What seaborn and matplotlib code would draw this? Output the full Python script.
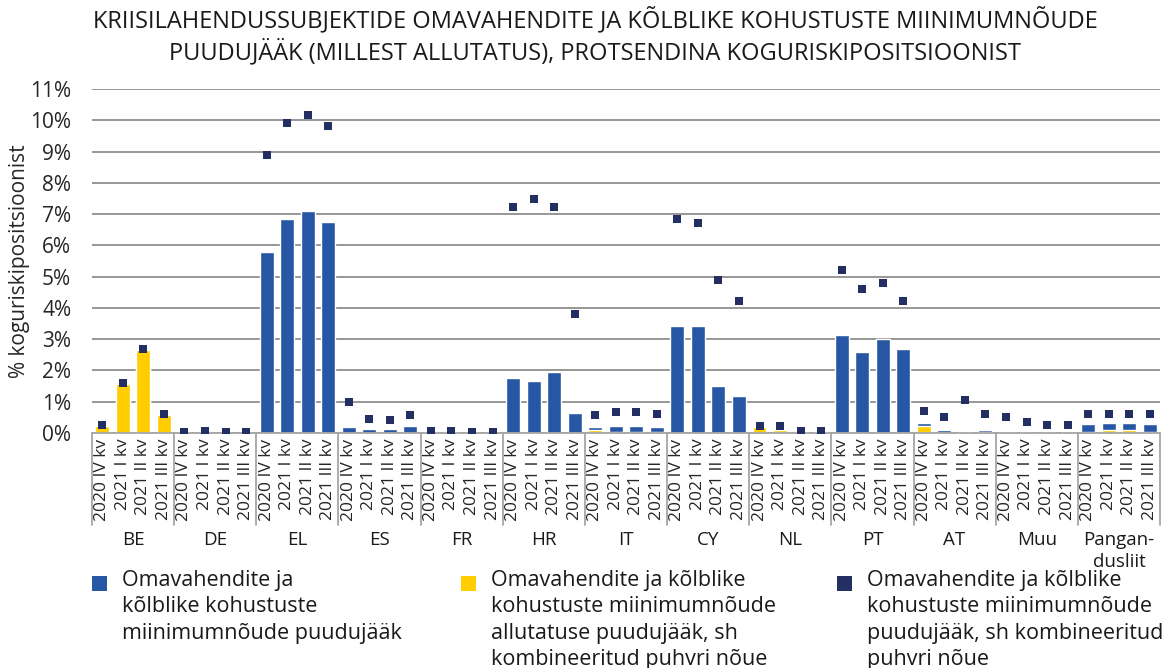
import matplotlib
matplotlib.use("Agg")
import matplotlib.pyplot as plt
import matplotlib.transforms as mtransforms
from matplotlib.patches import Rectangle
import pandas as pd
import seaborn as sns

# Chart data, % of total risk exposure
groups = ['BE', 'DE', 'EL', 'ES', 'FR', 'HR', 'IT', 'CY', 'NL', 'PT', 'AT', 'Muu', 'Pangan-\ndusliit']
quarters = ['2020 IV kv', '2021 I kv', '2021 II kv', '2021 III kv']

# blue bars: MREL shortfall
shortfall = [
    0.21, 1.56, 2.65, 0.57,   # BE
    0.00, 0.03, 0.00, 0.00,   # DE
    5.79, 6.85, 7.10, 6.75,   # EL
    0.18, 0.12, 0.12, 0.21,   # ES
    0.03, 0.03, 0.00, 0.00,   # FR
    1.75, 1.66, 1.94, 0.63,   # HR
    0.18, 0.21, 0.21, 0.18,   # IT
    3.42, 3.42, 1.50, 1.18,   # CY
    0.19, 0.10, 0.04, 0.04,   # NL
    3.13, 2.59, 3.00, 2.68,   # PT
    0.32, 0.09, 0.03, 0.09,   # AT
    0.03, 0.03, 0.03, 0.03,   # Muu
    0.29, 0.32, 0.32, 0.29,   # Pangandusliit
]
# yellow bars: subordination shortfall incl. combined buffer
subordination = [
    0.21, 1.56, 2.65, 0.57,
    0.00, 0.03, 0.00, 0.00,
    0.00, 0.00, 0.00, 0.00,
    0.00, 0.00, 0.00, 0.00,
    0.03, 0.03, 0.00, 0.00,
    0.00, 0.00, 0.00, 0.00,
    0.09, 0.03, 0.03, 0.03,
    0.00, 0.00, 0.00, 0.00,
    0.19, 0.10, 0.04, 0.04,
    0.00, 0.00, 0.00, 0.00,
    0.22, 0.00, 0.00, 0.03,
    0.00, 0.00, 0.00, 0.00,
    0.03, 0.09, 0.09, 0.03,
]
# navy squares: shortfall incl. combined buffer requirement
with_buffer = [
    0.25, 1.60, 2.69, 0.61,
    0.03, 0.06, 0.03, 0.03,
    8.88, 9.90, 10.16, 9.81,
    0.99, 0.45, 0.42, 0.58,
    0.06, 0.06, 0.03, 0.03,
    7.24, 7.47, 7.24, 3.80,
    0.58, 0.67, 0.67, 0.61,
    6.83, 6.73, 4.90, 4.23,
    0.22, 0.22, 0.06, 0.06,
    5.22, 4.62, 4.81, 4.23,
    0.71, 0.51, 1.06, 0.61,
    0.51, 0.35, 0.26, 0.26,
    0.61, 0.61, 0.61, 0.61,
]

legend_labels = [
    'Omavahendite ja\nkõlblike kohustuste\nmiinimumnõude puudujääk',
    'Omavahendite ja kõlblike\nkohustuste miinimumnõude\nallutatuse puudujääk, sh\nkombineeritud puhvri nõue',
    'Omavahendite ja kõlblike\nkohustuste miinimumnõude\npuudujääk, sh kombineeritud\npuhvri nõue',
]

BLUE = '#2757a4'
YELLOW = '#ffcd00'
NAVY = '#232f62'
GRID = '#8f8f8f'

rows = []
for gi, g in enumerate(groups):
    for qi, q in enumerate(quarters):
        i = gi * 4 + qi
        rows.append({'key': f'{g}|{q}', 'group': g, 'quarter': q,
                     'shortfall': shortfall[i], 'subordination': subordination[i],
                     'with_buffer': with_buffer[i]})
df = pd.DataFrame(rows)
order = list(df['key'])

sns.set_theme(style='white')
plt.rcParams['font.family'] = ['Open Sans', 'DejaVu Sans']
plt.rcParams['text.color'] = '#1a1a1a'

W, H = 1162, 668
fig = plt.figure(figsize=(W / 100, H / 100), dpi=100)
ax = fig.add_axes([92 / W, 235 / H, 1068 / W, 344 / H])

sns.barplot(data=df, x='key', y='shortfall', order=order, color=BLUE,
            width=0.68, saturation=1, ax=ax)
sns.barplot(data=df, x='key', y='subordination', order=order, color=YELLOW,
            width=0.68, saturation=1, ax=ax)
sns.stripplot(data=df, x='key', y='with_buffer', order=order, color=NAVY,
              marker='s', size=6, jitter=False, linewidth=0, ax=ax, zorder=5)

ax.set_ylim(0, 11)
ax.set_xlim(-0.5, len(order) - 0.5)
ax.set_yticks(range(0, 12))
ax.set_yticklabels([f'{v}%' for v in range(0, 12)], fontsize=15)
ax.yaxis.grid(True, color=GRID, linewidth=1.3)
ax.set_axisbelow(True)
ax.tick_params(axis='y', length=0, pad=15)
ax.set_xticks(range(len(order)))
ax.set_xticklabels(list(df['quarter']), rotation=90, fontsize=12.5)
ax.tick_params(axis='x', length=0, pad=4)
for s in ['top', 'right', 'left']:
    ax.spines[s].set_visible(False)
ax.spines['bottom'].set_color('#a6a6a6')
ax.spines['bottom'].set_linewidth(1.3)
ax.set_xlabel('')
ax.set_ylabel('% koguriskipositsioonist', fontsize=15)
ax.yaxis.set_label_coords(-0.058, 0.5)

# group separators and group names below the quarter labels
trans = mtransforms.blended_transform_factory(ax.transData, ax.transAxes)
n = len(quarters)
for gi in range(len(groups) + 1):
    ax.plot([gi * n - 0.5] * 2, [0, -0.268], transform=trans, color='#a6a6a6',
            linewidth=1.3, clip_on=False)
for gi, g in enumerate(groups):
    ax.text(gi * n + (n - 1) / 2, -0.285, g, transform=trans, ha='center', va='top',
            fontsize=13.5, linespacing=1.25)

fig.text(0.512, 0.99, 'KRIISILAHENDUSSUBJEKTIDE OMAVAHENDITE JA KÕLBLIKE KOHUSTUSTE MIINIMUMNÕUDE\n'
         'PUUDUJÄÄK (MILLEST ALLUTATUS), PROTSENDINA KOGURISKIPOSITSIOONIST',
         ha='center', va='top', fontsize=17, linespacing=1.25)

# legend: square swatch aligned with the first text line
legend_colors = [BLUE, YELLOW, NAVY]
legend_x = [92, 461, 837]
for x0, col, lab in zip(legend_x, legend_colors, legend_labels):
    fig.add_artist(Rectangle((x0 / W, 1 - 591 / H), 15 / W, 15 / H,
                             transform=fig.transFigure, color=col, linewidth=0))
    fig.text((x0 + 30) / W, 1 - 570 / H, lab, ha='left', va='top',
             fontsize=15.5, linespacing=1.33)

fig.savefig('out.png', dpi=100)
